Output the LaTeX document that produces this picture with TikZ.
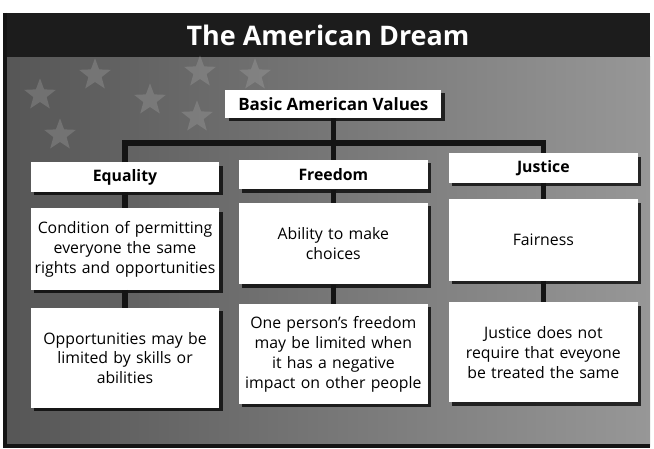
\documentclass[tikz,border=0pt]{standalone}
\usepackage{fontspec}
\setmainfont{Open Sans}
\usepackage{xcolor}
\usetikzlibrary{shadows,shapes.geometric}
\definecolor{ADBand}{HTML}{1C1C1C}
\definecolor{ADDark}{HTML}{565656}
\definecolor{ADLight}{HTML}{979797}
\definecolor{ADStar}{HTML}{B8B8B8}
\definecolor{ADLine}{HTML}{141414}

\begin{document}
\begin{tikzpicture}[x=1cm,y=1cm,
  valbox/.style={fill=white,inner sep=0pt,align=center,
    drop shadow={shadow xshift=.1cm,shadow yshift=-.1cm,fill=black,opacity=.75}},
  headbox/.style={valbox,minimum width=5.66cm,minimum height=.88cm,font=\fontsize{13.5}{16}\bfseries},
  textbox/.style={valbox,text width=5.66cm,font=\fontsize{13.5}{17}\selectfont},
  link/.style={ADLine,line width=.17cm},
  flagstar/.style={star,star points=5,star point ratio=2.4,fill=ADStar,inner sep=0pt,minimum size=1cm,opacity=.25}]
\path[use as bounding box] (0,0) rectangle (19.62,13.44);
\fill[white] (0,0) rectangle (19.62,13.44);
% background and title band
\shade[left color=ADDark,right color=ADLight] (0.15,0.06) rectangle (19.5,11.73);
\fill[ADBand] (0.15,11.73) rectangle (19.5,13.05);
\draw[ADLine,line width=.12cm] (0.15,13.05) -- (0.15,0.06) -- (19.5,0.06);
\foreach \i/\p in {1/{(1.2,10.59)},2/{(2.85,11.19)},3/{(4.5,10.44)},4/{(6.0,11.28)},5/{(1.8,9.39)},6/{(7.65,11.19)},7/{(5.91,9.93)}}
  \node[flagstar] (s\i) at \p {};
\node[text=white,font=\fontsize{23}{27}\bfseries] (title) at (9.84,12.39) {The American Dream};
\node[valbox,minimum width=6.48cm,minimum height=.84cm,font=\fontsize{14.5}{17}\bfseries] (basic) at (10.0,10.32) {Basic American Values};
% headers
\node[headbox] (equality) at (3.75,8.13) {Equality};
\node[headbox] (freedom) at (10.0,8.2) {Freedom};
\node[headbox] (justice) at (16.3,8.4) {Justice};
% definitions
\node[textbox,minimum height=2.44cm] (eqdef) at (3.75,5.97) {Condition of permitting\\everyone the same\\rights and opportunities};
\node[textbox,minimum height=2.44cm] (frdef) at (10.0,6.13) {Ability to make\\choices};
\node[textbox,minimum height=2.44cm] (judef) at (16.3,6.24) {Fairness};
% limits
\node[textbox,minimum height=3.0cm] (eqlim) at (3.75,2.7) {Opportunities may be\\limited by skills or\\abilities};
\node[textbox,minimum height=3.0cm] (frlim) at (10.0,2.82) {One person’s freedom\\may be limited when\\it has a negative\\impact on other people};
\node[textbox,minimum height=3.0cm] (julim) at (16.3,2.87) {Justice does not\\require that eveyone\\be treated the same};
% connectors
\coordinate (bus) at (10.0,9.15);
\draw[link] (basic) -- (freedom);
\draw[link] (equality.north) |- (bus) -| (justice.north);
\foreach \a/\b in {equality/eqdef,eqdef/eqlim,freedom/frdef,frdef/frlim,justice/judef,judef/julim}
  \draw[link] (\a) -- (\b);
\end{tikzpicture}
\end{document}
